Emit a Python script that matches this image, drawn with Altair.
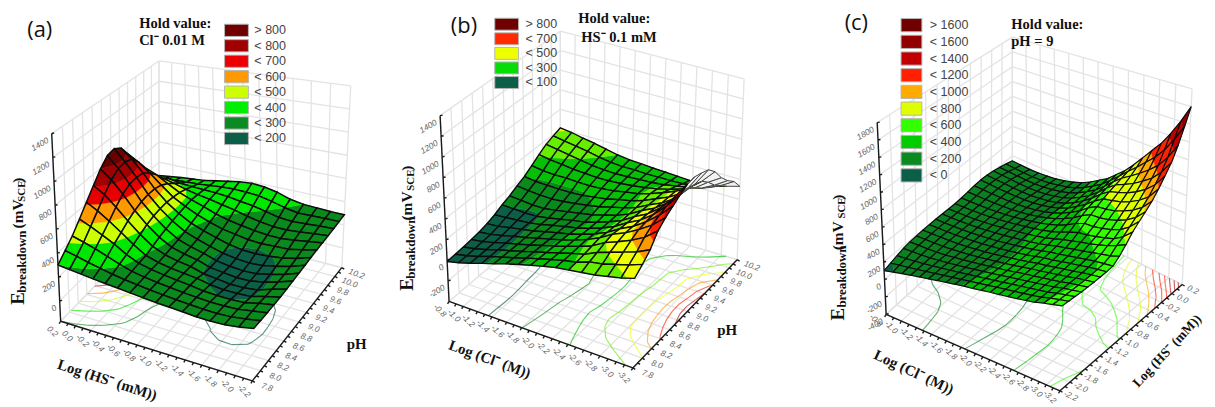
import altair as alt
import numpy as np
import pandas as pd

alt.data_transformers.disable_max_rows()

# ---------- surface heights (rows: first axis, columns: second axis)
Z_A = [
[300,365,432,520,613,707,800,870,883,840,740,606,470,370,302,270],
[291,344,406,483,564,650,727,777,785,760,683,581,468,377,315,283],
[282,321,378,437,501,567,627,662,670,657,607,539,455,395,327,297],
[273,301,343,390,432,475,510,533,543,540,520,480,430,378,335,308],
[265,282,307,329,357,386,413,434,442,445,436,423,398,370,340,320],
[258,267,277,285,293,312,333,348,361,372,379,383,376,365,350,340],
[250,255,259,262,263,268,275,284,296,312,329,347,358,362,361,360],
[242,243,245,246,244,245,247,250,257,273,291,308,335,352,367,380],
[235,235,234,233,231,229,225,222,224,240,258,280,312,335,362,390],
[230,227,224,222,219,198,190,188,193,210,240,260,285,320,355,380],
[225,221,216,207,198,186,177,172,176,192,222,242,262,295,330,358],
[218,214,210,201,186,172,165,162,168,188,215,232,247,270,300,320],
[218,214,211,200,187,172,168,168,176,196,222,230,245,262,280,300],
[223,221,218,207,194,186,188,192,200,210,225,243,255,268,283,294],
[240,238,237,235,228,223,222,222,228,235,248,260,268,277,285,289],
[265,261,258,256,255,255,260,264,268,272,275,276,278,281,284,287],
]
Z_B = [
[-14,-8,-2,8,19,38,65,102,132,170,205,255,310,355,385,410],
[13,15,19,25,32,48,72,97,120,157,190,238,290,335,365,395],
[47,47,48,52,58,72,83,93,110,148,185,230,278,315,345,370],
[85,85,85,87,89,92,93,95,110,145,182,232,262,295,325,350],
[120,117,114,112,113,113,114,115,128,155,183,228,255,275,300,325],
[157,150,146,143,143,143,142,140,150,170,190,225,247,265,283,300],
[190,185,180,177,173,170,167,165,172,190,208,232,250,260,272,284],
[223,218,212,208,204,196,190,185,193,210,225,245,258,266,274,278],
[253,250,246,245,240,232,225,220,228,243,255,268,270,270,268,268],
[280,280,281,283,283,272,266,262,262,272,280,288,287,278,270,262],
[297,303,312,325,338,325,318,312,310,312,318,325,310,290,270,255],
[314,345,368,395,410,398,392,388,383,375,372,370,342,312,275,248],
[330,365,410,442,462,458,454,450,442,430,425,420,380,335,285,245],
[357,400,450,495,530,540,545,545,530,510,498,490,430,365,310,265],
[383,435,490,560,610,640,665,680,680,650,625,590,520,430,365,295],
[420,480,550,660,720,765,810,850,855,830,800,720,600,510,440,330],
]
Z_C = [
[100,125,150,172,185,192,197,200,200,198,195,195,200,210,220,225,220,205,185,160,130],
[128,145,160,177,188,195,200,202,202,200,198,198,202,210,218,222,215,200,180,150,125],
[153,162,172,183,192,198,203,205,205,204,202,202,205,210,215,217,210,195,175,145,122],
[178,182,187,192,198,203,208,210,210,210,208,208,210,212,214,215,205,190,170,145,125],
[200,202,204,205,207,210,213,216,217,218,218,218,218,218,216,213,203,188,170,150,135],
[222,222,222,222,222,223,225,227,228,230,230,230,228,225,222,216,205,192,178,162,150],
[245,243,240,238,237,236,237,238,240,243,245,245,242,238,232,225,215,205,195,185,175],
[265,262,258,255,253,251,251,252,254,257,260,262,260,255,248,240,232,225,218,210,205],
[285,281,277,273,270,268,267,268,270,274,278,280,280,276,270,263,257,252,248,245,245],
[305,300,296,292,288,285,285,286,288,292,296,300,304,303,300,295,292,292,293,295,300],
[322,318,314,310,306,303,303,304,306,310,315,322,330,336,340,340,343,346,352,358,365],
[340,336,332,328,325,322,322,323,326,330,338,350,365,380,392,400,405,410,415,422,430],
[360,356,352,349,346,343,344,346,350,356,368,385,408,430,450,465,477,488,497,508,520],
[375,373,371,369,367,366,367,370,375,385,400,425,465,495,525,545,565,580,590,600,610],
[392,390,388,386,384,382,383,386,392,405,425,460,505,545,580,610,635,655,675,695,720],
[410,408,406,405,403,402,404,408,415,430,450,475,510,550,590,630,665,700,740,785,840],
[430,428,426,424,422,422,424,428,436,450,472,495,530,570,610,655,700,750,810,880,960],
[450,447,444,442,440,440,442,446,455,472,500,520,555,600,650,695,750,815,885,975,1080],
[480,476,472,468,465,463,463,466,475,495,530,550,595,645,695,750,815,885,975,1095,1230],
[505,499,494,488,484,481,480,482,488,515,570,610,660,710,765,825,905,990,1100,1250,1400],
[530,522,514,506,500,497,495,495,500,550,620,700,760,810,870,950,1040,1133,1270,1430,1600],
]

# ---------- colour bands
LEVELS_A = [200,300,400,500,600,700,800]
COLORS_A = ['#0b5f46','#0a8a1c','#00e800','#ccff00','#ff9900','#e80000','#a00000','#6a0000']
LEVELS_B = [100,200,300,400,500,600,700,800]
COLORS_B = ['#0b5f46','#0a8a1c','#06c006','#66ee00','#eeff00','#ff9900','#ff2200','#cc0000','#700000']
LEVELS_C = [130,300,480,620,800,950,1200,1400,1600]
COLORS_C = ['#0b5f46','#0a8020','#06bb06','#33ff00','#ddff00','#ffaa00','#ff2200','#c00000','#900000','#700000']
CONTOURS_C = [100,200,300,400,500,600,700,800,900,1000,1100,1200,1300,1400,1500]

# ---------- tick labels
HS_A = ['0.2','0.0','-0.2','-0.4','-0.6','-0.8','-1.0','-1.2','-1.4','-1.6','-1.8','-2.0','-2.2']
PH = ['7.8','8.0','8.2','8.4','8.6','8.8','9.0','9.2','9.4','9.6','9.8','10.0','10.2']
CL = ['-0.8','-1.0','-1.2','-1.4','-1.6','-1.8','-2.0','-2.2','-2.4','-2.6','-2.8','-3.0','-3.2']
HS_C = ['-2.2','-2.0','-1.8','-1.6','-1.4','-1.2','-1.0','-0.8','-0.6','-0.4','-0.2','0.0','0.2']
ZT_A = [0,200,400,600,800,1000,1200,1400]
ZT_B = [-200,0,200,400,600,800,1000,1200,1400]
ZT_C = [-400,-200,0,200,400,600,800,1000,1200,1400,1600,1800]

# ---------- legends
LEG_A = ['> 800','< 800','< 700','< 600','< 500','< 400','< 300','< 200']
LEGC_A = ['#700000','#a00000','#ee0000','#ff9900','#ccff00','#00ee00','#0a8a20','#0b5f46']
LEG_B = ['> 800','< 700','< 500','< 300','< 100']
LEGC_B = ['#700000','#ff2a00','#eeff00','#06dd06','#0b5f46']
LEG_C = ['> 1600','< 1600','< 1400','< 1200','< 1000','< 800','< 600','< 400','< 200','< 0']
LEGC_C = ['#700000','#900000','#c00000','#ff2000','#ffaa00','#ddff00','#33ff00','#00cc00','#0a8a20','#0b5f46']


def hom(p):
    src = [(0,0),(1,0),(1,1),(0,1)]
    A, b = [], []
    for (u,v),(x,y) in zip(src,p):
        A.append([u,v,1,0,0,0,-u*x,-v*x]); b.append(x)
        A.append([0,0,0,u,v,1,-u*y,-v*y]); b.append(y)
    h = np.linalg.solve(np.array(A,float),np.array(b,float))
    def f(u,v):
        w = h[6]*u+h[7]*v+1
        return np.array([(h[0]*u+h[1]*v+h[2])/w,(h[3]*u+h[4]*v+h[5])/w])
    return f

PANELS = [
 dict(z=Z_A, floor=[(61,322),(254,382),(344,268),(160,220)], top=[(52,133),(259,192),(353,85),(160,60)],
      zr=(-170,1400), lv=LEVELS_A, col=COLORS_A, cont=[200,300,400,500,600,700,800],
      ul=HS_A, vl=PH, zt=ZT_A, uo=(-8,10), vo=(15,6), zo=(-4,6), va=20, lw=1.5),
 dict(z=Z_B, floor=[(452,302),(637,369),(742,260),(564,207)], top=[(443,115),(641,171),(749,78),(564,30)],
      zr=(-400,1400), lv=LEVELS_B, col=COLORS_B, cont=[100,200,300,400,500,600,700,800],
      ul=CL, vl=PH, zt=ZT_B, uo=(-9,9), vo=(15,6), zo=(-4,6), va=20, lw=1.4),
 dict(z=Z_C, floor=[(892,315),(1067,392),(1190,285),(1019,200)], top=[(883,122),(1072,190),(1200,88),(1019,36)],
      zr=(-400,1800), lv=LEVELS_C, col=COLORS_C, cont=CONTOURS_C,
      ul=CL, vl=HS_C, zt=ZT_C, uo=(-10,6), vo=(11,5), zo=(-4,6), va=25, lw=1.2),
]

grid_f, cont_f, axis_f, surf_f = [], [], [], []
texts = []

def line(pts, **p):
    return {"type":"Feature","properties":p,"geometry":{"type":"LineString","coordinates":[[round(float(a),1),round(float(b),1)] for a,b in pts]}}
def poly(pts, **p):
    c = [[round(float(a),1),round(float(b),1)] for a,b in pts]
    c.append(c[0])
    return {"type":"Feature","properties":p,"geometry":{"type":"Polygon","coordinates":[c]}}

def clip(pl, lev, above):
    out = []
    for k in range(len(pl)):
        a, b = pl[k], pl[(k+1)%len(pl)]
        ia = a[2] >= lev if above else a[2] <= lev
        ib = b[2] >= lev if above else b[2] <= lev
        if ia: out.append(a)
        if ia != ib:
            t = (lev-a[2])/(b[2]-a[2])
            out.append(tuple(a[m]+t*(b[m]-a[m]) for m in range(3)))
    return out

def area(q):
    s = 0
    for k in range(len(q)):
        a, b = q[k], q[(k+1)%len(q)]
        s += a[0]*b[1]-b[0]*a[1]
    return s

LS = 8.4
for P in PANELS:
    H0, H1 = hom(P['floor']), hom(P['top'])
    zmin, zmax = P['zr']
    def proj(u,v,z):
        w = (z-zmin)/(zmax-zmin)
        a, b = H0(u,v), H1(u,v)
        return a+w*(b-a)
    N = 12
    # walls and floor
    for k in range(N+1):
        t = k/N
        grid_f.append(line([H0(t,0),H0(t,1)]))
        grid_f.append(line([H0(0,t),H0(1,t)]))
        grid_f.append(line([H0(0,t),H1(0,t)]))
        grid_f.append(line([H0(t,1),H1(t,1)]))
    for z in P['zt']+[zmin]:
        grid_f.append(line([proj(0,0,z),proj(0,1,z)]))
        grid_f.append(line([proj(0,1,z),proj(1,1,z)]))
    # axes
    axis_f.append(line([H0(0,0),H1(0,0)]))
    axis_f.append(line([H0(0,0),H0(1,0)]))
    axis_f.append(line([H0(1,0),H0(1,1)]))
    for k in range(2*N+1):
        t = k/(2*N)
        a = H0(t,0); axis_f.append(line([a,a+np.array([-1.5,2.5])]))
        a = H0(1,t); axis_f.append(line([a,a+np.array([2.5,1.5])]))
    for z in P['zt']:
        a = proj(0,0,z); axis_f.append(line([a,a+np.array([2.5,-0.5])]))
        texts.append((str(z),a[0]+P['zo'][0],a[1]+P['zo'][1],LS,330,'Liberation Sans','normal','italic','#666666','right'))
    for k,l in enumerate(P['ul']):
        a = H0(k/N,0)
        texts.append((l,a[0]+P['uo'][0],a[1]+P['uo'][1],LS,45,'Liberation Sans','normal','italic','#666666','center'))
    for k,l in enumerate(P['vl']):
        a = H0(1,k/N)
        texts.append((l,a[0]+P['vo'][0],a[1]+P['vo'][1],LS,P['va'],'Liberation Sans','normal','italic','#666666','center'))
    Z = P['z']; n = len(Z)-1; m = len(Z[0])-1
    lv, col = P['lv'], P['col']
    # contours on the floor
    for lev in P['cont']:
        ci = sum(1 for q in lv if q < lev)
        c = col[min(ci,len(col)-1)]
        for i in range(n):
            for j in range(m):
                cs = [(i,j),(i+1,j),(i+1,j+1),(i,j+1)]
                pts = []
                for k in range(4):
                    a, b = cs[k], cs[(k+1)%4]
                    za, zb = Z[a[0]][a[1]], Z[b[0]][b[1]]
                    if (za < lev) != (zb < lev):
                        t = (lev-za)/(zb-za)
                        pts.append(H0((a[0]+t*(b[0]-a[0]))/n,(a[1]+t*(b[1]-a[1]))/m))
                for k in range(0,len(pts)-1,2):
                    cont_f.append(line([pts[k],pts[k+1]],s=c))
    # surface, far cells first
    ref = area([H0(0,0),H0(1,0),H0(1,1),H0(0,1)])
    cells = sorted(((i,j) for i in range(n) for j in range(m)), key=lambda c: c[0]-c[1])
    for i,j in cells:
        cs = [(i,j),(i+1,j),(i+1,j+1),(i,j+1)]
        base = [(a/n,b/m,Z[a][b]) for a,b in cs]
        scr = [proj(*q) for q in base]
        if area(scr)*ref < 0:
            surf_f.append(poly(scr,f='#f2f2f2',s='#f2f2f2',w=0.3))
            surf_f.append(line(scr+[scr[0]],f='none',s='#444444',w=1.0))
            continue
        lows = [None]+lv
        highs = lv+[None]
        for b,(lo,hi) in enumerate(zip(lows,highs)):
            pl = base
            if lo is not None: pl = clip(pl,lo,True)
            if hi is not None and len(pl) >= 3: pl = clip(pl,hi,False)
            if len(pl) >= 3:
                surf_f.append(poly([proj(*q) for q in pl],f=col[b],s=col[b],w=0.4))
        surf_f.append(line(scr+[scr[0]],f='none',s='#0c0c0c',w=P['lw']))

SERIF, SANS = 'Liberation Serif', 'Open Sans'
def ser(t,x,y,s=15,a=0,al='left'):
    texts.append((t,x,y,s,a,SERIF,'bold','normal','#111111',al))
# panel letters
for t,x,y in [('(a)',40,29),('(b)',467,25),('(c)',862,22)]:
    texts.append((t,x,y,22,0,SANS,'normal','normal','#111111','center'))
# hold values
ser('Hold value:',140,23,14.6); ser('Cl⁻ 0.01 M',140,40,14.6)
ser('Hold value:',582,18,14.6); ser('HS⁻  0.1 mM',585,37,14.6)
ser('Hold value:',1018,24,14.6); ser('pH = 9',1018,41,14.6)
# axis titles
ser('Log (HS⁻ (mM))',108,381,15,18,'center'); ser('pH',359,345,15,0,'center')
ser('Log (Cl⁻ (M))',493,360,15,20,'center'); ser('pH',732,331,15,0,'center')
ser('Log (Cl⁻ (M))',920,373,15,25,'center'); ser('Log (HS⁻ (mM))',1175,352,13.5,313,'center')
for x,ys in [(18,(299,262,214,191,180)),(410,(285,248,206,180,168)),(844,(315,277,236,208,197))]:
    ser('E',x,ys[0],19,270,'center')
    ser('breakdown',x+4,ys[1],13,270,'center')
    ser('(mV',x,ys[2],15.5,270,'center')
    ser('SCE',x+4,ys[3],11,270,'center')
    ser(')',x,ys[4],15.5,270,'center')

# legend boxes
rects = []
def legend(labels,colors,x0,x1,y0,step,h,tx):
    for k,(l,c) in enumerate(zip(labels,colors)):
        y = y0+k*step
        rects.append(dict(x=x0,x2=x1,y=y,y2=y+h,c=c))
        texts.append((l,tx,y+h/2,12.6,0,'Liberation Sans','normal','normal','#444444','left'))
legend(LEG_A,LEGC_A,226,250,23,15.55,12.3,256)
legend(LEG_B,LEGC_B,498,522,17,14.67,12,529)
legend(LEG_C,LEGC_C,907,928,17.3,16.8,13.3,936)

W, H = 1207, 399
PR = dict(type='identity', scale=1, translate=[-8,-8])
XS = alt.Scale(domain=[8,1215], nice=False)
YS = alt.Scale(domain=[407,8], nice=False)

grid = alt.Chart(alt.Data(values=grid_f)).mark_geoshape(filled=False, stroke='#e3e3e3', strokeWidth=1.3).project(**PR)
cont = alt.Chart(alt.Data(values=cont_f)).mark_geoshape(filled=False, strokeWidth=1.1, opacity=0.65).encode(
    stroke=alt.Stroke('properties.s:N', scale=None)).project(**PR)
axes = alt.Chart(alt.Data(values=axis_f)).mark_geoshape(filled=False, stroke='#1a1a1a', strokeWidth=1.4).project(**PR)
surf = alt.Chart(alt.Data(values=surf_f)).mark_geoshape().encode(
    fill=alt.Fill('properties.f:N', scale=None),
    stroke=alt.Stroke('properties.s:N', scale=None),
    strokeWidth=alt.StrokeWidth('properties.w:Q', scale=None)).project(**PR)

layers = [grid, cont, axes, surf]
layers.append(alt.Chart(pd.DataFrame(rects)).mark_rect(stroke='#b5b5b5', strokeWidth=1).encode(
    x=alt.X('x:Q', scale=XS, axis=None), x2=alt.X2('x2'),
    y=alt.Y('y:Q', scale=YS, axis=None), y2=alt.Y2('y2'),
    fill=alt.Fill('c:N', scale=None)))
tdf = pd.DataFrame(texts, columns=['t','x','y','s','a','font','w','st','c','al'])
for (font,w,st,al),g in tdf.groupby(['font','w','st','al']):
    layers.append(alt.Chart(g[['t','x','y','s','a','c']]).mark_text(font=font, fontWeight=w, fontStyle=st, align=al, baseline='middle').encode(
        x=alt.X('x:Q', scale=XS, axis=None), y=alt.Y('y:Q', scale=YS, axis=None),
        text='t:N', size=alt.Size('s:Q', scale=None), angle=alt.Angle('a:Q', scale=None),
        color=alt.Color('c:N', scale=None)))

chart = alt.layer(*layers).properties(width=W, height=H, padding=0, autosize=alt.AutoSizeParams(type='none')).configure_view(strokeWidth=0)
chart.save("out.html", embed_options={"renderer":"svg","actions":False})
